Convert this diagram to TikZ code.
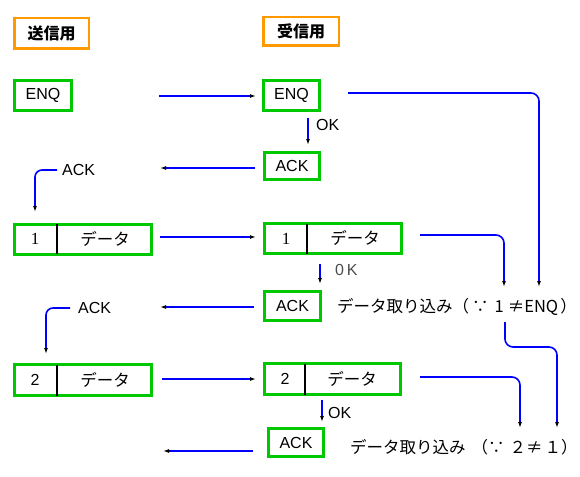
\documentclass[tikz,border=0pt]{standalone}
\usepackage{fontspec}
\setmainfont{Liberation Sans}
\newfontfamily\serifnum{Liberation Serif}
\newfontfamily\cjk{Noto Sans CJK JP}
\usetikzlibrary{arrows.meta}
\definecolor{gr}{RGB}{0,200,0}
\definecolor{og}{RGB}{255,153,0}
\begin{document}
\begin{tikzpicture}[x=1pt,y=-1pt,
  hdr/.style={draw=og,line width=2.5pt,inner sep=0,outer sep=0,font=\cjk\fontsize{16}{16}\selectfont\bfseries},
  gbox/.style={draw=gr,line width=3pt,inner sep=0,outer sep=0,font=\fontsize{16}{16}\selectfont},
  arr/.style={draw=blue,line width=1.6pt,-{Latex[black,length=6pt,width=4pt]}},
  lbl/.style={inner sep=0,font=\fontsize{16}{16}\selectfont},
  jp/.style={inner sep=0,font=\cjk\fontsize{16.5}{16.5}\selectfont},
  div/.style={draw=black,line width=1.2pt}]
\useasboundingbox (0,0) rectangle (580,476);
% headers
\node[hdr,minimum width=74.5pt,minimum height=30.5pt] (h1) at (51.5,33.5) {送信用};
\node[hdr,minimum width=75.5pt,minimum height=28.5pt] (h2) at (301,31.5) {受信用};
% ENQ
\node[gbox,minimum width=57pt,minimum height=30pt] (enqL) at (43,95.5) {ENQ};
\node[gbox,minimum width=56pt,minimum height=30pt] (enqR) at (291.5,95.5) {ENQ};
\node[gbox,minimum width=55pt,minimum height=27pt] (ackR1) at (292,166) {ACK};
% data 1
\node[gbox,minimum width=137pt,minimum height=30pt] (d1L) at (83,239) {};
\node[lbl,font=\serifnum\fontsize{17}{17}\selectfont] (d1Ln) at (35,239) {1};
\node[jp] (d1Lt) at (105,239) {データ};
\draw[div] ([xshift=42.5pt]d1L.north west) -- ([xshift=42.5pt]d1L.south west);
\node[gbox,minimum width=137pt,minimum height=30pt] (d1R) at (333,238.5) {};
\node[lbl,font=\serifnum\fontsize{17}{17}\selectfont] (d1Rn) at (286,238.5) {1};
\node[jp] (d1Rt) at (355,238) {データ};
\draw[div] ([xshift=42.5pt]d1R.north west) -- ([xshift=42.5pt]d1R.south west);
\node[gbox,minimum width=56pt,minimum height=29pt] (ackR2) at (292.5,306) {ACK};
% data 2
\node[gbox,minimum width=137pt,minimum height=31pt] (d2L) at (83,380) {};
\node[lbl] (d2Ln) at (35,380) {2};
\node[jp] (d2Lt) at (105,380) {データ};
\draw[div] ([xshift=42.5pt]d2L.north west) -- ([xshift=42.5pt]d2L.south west);
\node[gbox,minimum width=136pt,minimum height=31pt] (d2R) at (332.5,379) {};
\node[lbl] (d2Rn) at (285,379) {2};
\node[jp] (d2Rt) at (352,379) {データ};
\draw[div] ([xshift=40.5pt]d2R.north west) -- ([xshift=40.5pt]d2R.south west);
\node[gbox,minimum width=55pt,minimum height=28pt] (ackR3) at (296,442.5) {ACK};
% labels
\node[lbl,anchor=west] (ok1) at (316,125) {OK};
\node[lbl,anchor=west,text=black!70] (ok2) at (335,270) {0\,K};
\node[lbl,anchor=west] (ok3) at (328,413) {OK};
\node[lbl,anchor=west] (ackl1) at (62,170) {ACK};
\node[lbl,anchor=west] (ackl2) at (78,308) {ACK};
\node[jp,anchor=west] (t1) at (337,307) {データ取り込み（\hspace{3pt}∵\hspace{6pt}1\hspace{4pt}≠ENQ\hspace{2pt}）};
\node[jp,anchor=west] (t2) at (350,447) {データ取り込み\hspace{6pt}（∵\hspace{5pt}２≠\hspace{2pt}１）};
% coordinates
\coordinate (a1s) at (159,96); \coordinate (a1e) at (256,96);
\coordinate (ok1s) at (308,118); \coordinate (ok1e) at (308,145);
\coordinate (b1s) at (255,168); \coordinate (b1e) at (160,168);
\coordinate (c1s) at (57,170); \coordinate (c1e) at (35,212);
\coordinate (a2s) at (160,237); \coordinate (a2e) at (256,237);
\coordinate (ok2s) at (320,264); \coordinate (ok2e) at (320,284);
\coordinate (b2s) at (254,307); \coordinate (b2e) at (160,307);
\coordinate (c2s) at (70,308); \coordinate (c2e) at (46,354);
\coordinate (a3s) at (162,379); \coordinate (a3e) at (256,379);
\coordinate (ok3s) at (322,400); \coordinate (ok3e) at (322,422);
\coordinate (b3s) at (253,451); \coordinate (b3e) at (163,451);
\coordinate (r1s) at (348,93); \coordinate (r1e) at (539,287);
\coordinate (r2s) at (420,235); \coordinate (r2e) at (504,287);
\coordinate (r3s) at (505,322); \coordinate (r3e) at (557,428);
\coordinate (r4s) at (420,377); \coordinate (r4e) at (520,428);
% arrows
\draw[arr] (a1s) -- (a1e);
\draw[arr] (ok1s) -- (ok1e);
\draw[arr] (b1s) -- (b1e);
\draw[arr,rounded corners=7pt] (c1s) -| (c1e);
\draw[arr] (a2s) -- (a2e);
\draw[arr] (ok2s) -- (ok2e);
\draw[arr] (b2s) -- (b2e);
\draw[arr,rounded corners=7pt] (c2s) -| (c2e);
\draw[arr] (a3s) -- (a3e);
\draw[arr] (ok3s) -- (ok3e);
\draw[arr] (b3s) -- (b3e);
\draw[arr,rounded corners=8pt] (r1s) -| (r1e);
\draw[arr,rounded corners=8pt] (r2s) -| (r2e);
\draw[arr,rounded corners=8pt] (r3s) |- (531,347) -| (r3e);
\draw[arr,rounded corners=8pt] (r4s) -| (r4e);
\end{tikzpicture}
\end{document}
